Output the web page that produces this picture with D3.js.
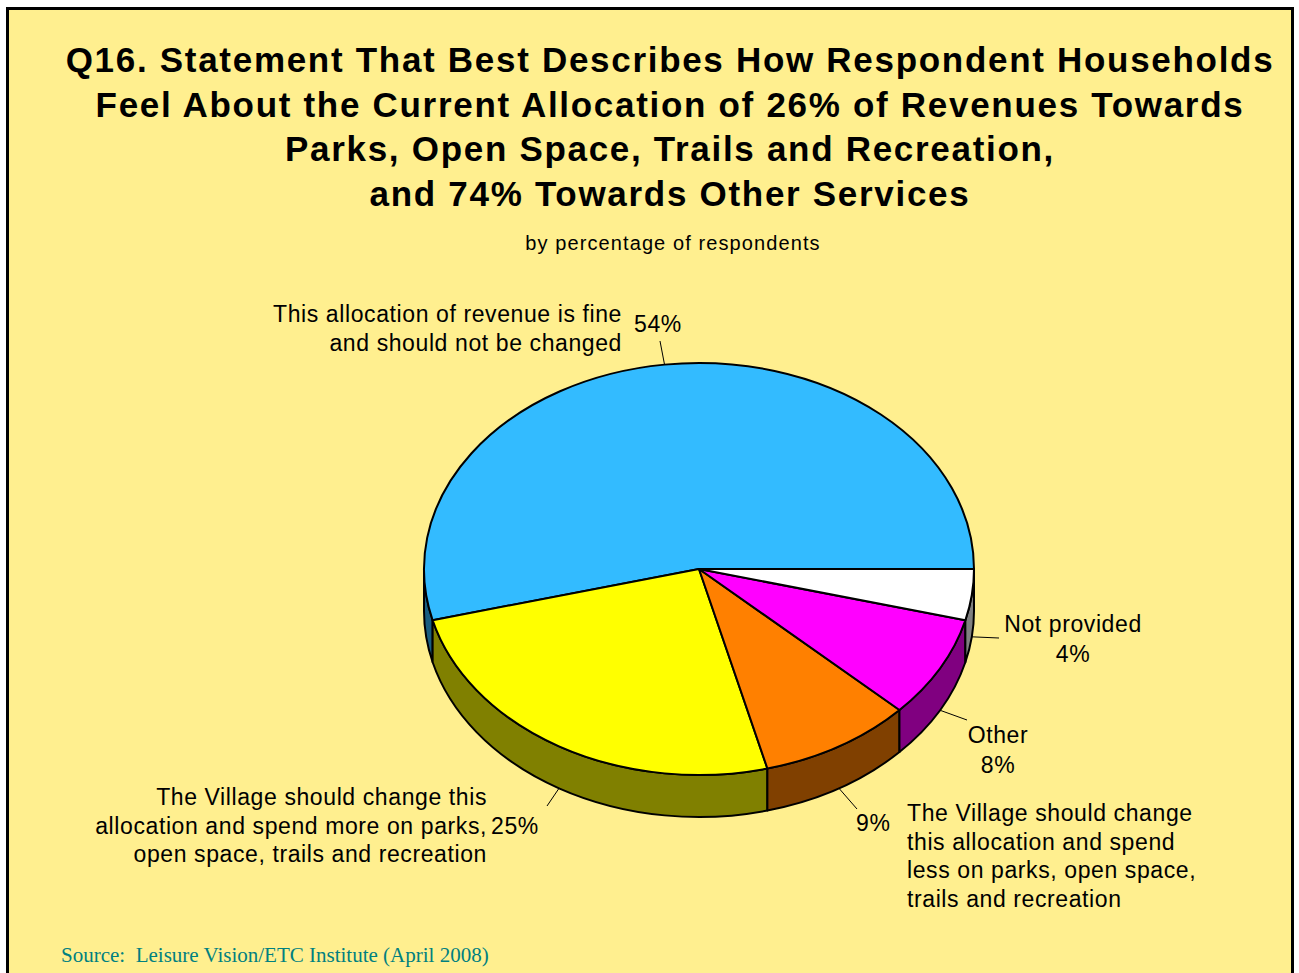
<!DOCTYPE html>
<html>
<head>
<meta charset="utf-8">
<script src="https://cdn.jsdelivr.net/npm/d3@7/dist/d3.min.js"></script>
<style>
  html, body { margin: 0; padding: 0; background: #ffffff; }
  svg { display: block; }
  .title { font-family: "Liberation Sans", Arial, sans-serif; font-weight: bold; font-size: 35px; letter-spacing: 1.7px; fill: #000; }
  .subtitle { font-family: "Liberation Sans", Arial, sans-serif; font-size: 20px; letter-spacing: 1.1px; fill: #000; }
  .lbl { font-family: "Liberation Sans", Arial, sans-serif; font-size: 23px; letter-spacing: 0.6px; fill: #000; }
  .source { font-family: "Liberation Serif", "Times New Roman", serif; font-size: 21px; fill: #008080; white-space: pre; }
</style>
</head>
<body>
<svg id="chart" width="1299" height="973" viewBox="0 0 1299 973"></svg>
<script>
// 3D pie for Q16 (revenue allocation), drawn by hand since d3.arc is circular only

const titleLines = [
    "Q16. Statement That Best Describes How Respondent Households",
    "Feel About the Current Allocation of 26% of Revenues Towards",
    "Parks, Open Space, Trails and Recreation,",
    "and 74% Towards Other Services"
];
const subtitle = "by percentage of respondents";
const sourceText = "Source:  Leisure Vision/ETC Institute (April 2008)";

const categories = [
    ["This allocation of revenue is fine", "and should not be changed"],
    ["The Village should change this", "allocation and spend more on parks,", "open space, trails and recreation"],
    ["The Village should change", "this allocation and spend", "less on parks, open space,", "trails and recreation"],
    ["Other"],
    ["Not provided"]
];
const values = [54, 25, 9, 8, 4];

const topColors = ["#33bbff", "#ffff00", "#ff8000", "#ff00ff", "#ffffff"];
const sideColors = ["#1a5e80", "#808000", "#804000", "#800080", "#808080"];

// where each label sits (layout only)
const labelLayout = [
    {nameX: 622, nameY: 322, nameAnchor: "end", pctX: 634, pctY: 332, pctAnchor: "start", lineEnd: [660, 341]},
    {nameX: 487, nameY: 805, nameAnchor: "end", pctX: 491, pctY: 834, pctAnchor: "start", lineEnd: [547, 806]},
    {nameX: 907, nameY: 821, nameAnchor: "start", pctX: 856, pctY: 831, pctAnchor: "start", lineEnd: [857, 809]},
    {nameX: 998, nameY: 743, nameAnchor: "middle", pctX: 998, pctY: 773, pctAnchor: "middle", lineEnd: [967, 720]},
    {nameX: 1073, nameY: 632, nameAnchor: "middle", pctX: 1073, pctY: 662, pctAnchor: "middle", lineEnd: [999, 638]}
];

const svg = d3.select("#chart");

// frame
svg.append("rect")
    .attr("x", 7.5).attr("y", 8.5)
    .attr("width", 1285).attr("height", 1000)
    .attr("fill", "#ffef8f")
    .attr("stroke", "#000")
    .attr("stroke-width", 3);

svg.selectAll(".title")
    .data(titleLines)
    .join("text")
    .attr("class", "title")
    .attr("x", 670)
    .attr("y", (d, i) => 72 + i * 44.5)
    .attr("text-anchor", "middle")
    .text(d => d);

svg.append("text")
    .attr("class", "subtitle")
    .attr("x", 673)
    .attr("y", 250)
    .attr("text-anchor", "middle")
    .text(subtitle);

// pie geometry
const cx = 699, cy = 569, rx = 275, ry = 206, depth = 42;
const P = (t, dy = 0) => [cx + rx * Math.cos(t), cy - ry * Math.sin(t) + dy];
const pt = p => p[0].toFixed(2) + "," + p[1].toFixed(2);

// angles counter-clockwise from 3 o'clock
const pie = d3.pie().sort(null).value(d => d).startAngle(0).endAngle(2 * Math.PI);
const arcs = pie(values).map((a, i) => ({...a, i}));

const topPath = a => {
    const t0 = a.startAngle, t1 = a.endAngle;
    return `M${cx},${cy} L${pt(P(t0))} A${rx},${ry} 0 ${t1 - t0 > Math.PI ? 1 : 0} 0 ${pt(P(t1))} Z`;
};
const sidePath = a => {
    const s0 = Math.max(a.startAngle, Math.PI), s1 = Math.min(a.endAngle, 2 * Math.PI);
    if (s0 >= s1) return null;
    return `M${pt(P(s0))} A${rx},${ry} 0 0 0 ${pt(P(s1))} L${pt(P(s1, depth))} A${rx},${ry} 0 0 1 ${pt(P(s0, depth))} Z`;
};

const pieG = svg.append("g");

pieG.selectAll(".side")
    .data(arcs.filter(a => sidePath(a)))
    .join("path")
    .attr("class", "side")
    .attr("d", sidePath)
    .attr("fill", a => sideColors[a.i])
    .attr("stroke", "#000")
    .attr("stroke-width", 2)
    .attr("stroke-linejoin", "round");

pieG.selectAll(".top")
    .data(arcs)
    .join("path")
    .attr("class", "top")
    .attr("d", topPath)
    .attr("fill", a => topColors[a.i])
    .attr("stroke", "#000")
    .attr("stroke-width", 2)
    .attr("stroke-linejoin", "round");

// leader lines from label to the slice edge at its mid angle
const anchorOf = a => {
    const m = (a.startAngle + a.endAngle) / 2;
    return P(m, Math.sin(m) < 0 ? depth : 0);
};

svg.selectAll(".leader")
    .data(arcs)
    .join("line")
    .attr("class", "leader")
    .attr("x1", a => labelLayout[a.i].lineEnd[0])
    .attr("y1", a => labelLayout[a.i].lineEnd[1])
    .attr("x2", a => anchorOf(a)[0])
    .attr("y2", a => anchorOf(a)[1])
    .attr("stroke", "#000")
    .attr("stroke-width", 1);

const lineH = 28.5;
const labelG = svg.selectAll(".label-group")
    .data(arcs)
    .join("g")
    .attr("class", "label-group");

labelG.each(function (a) {
    const g = d3.select(this);
    const L = labelLayout[a.i];
    const t = g.append("text")
        .attr("class", "lbl")
        .attr("text-anchor", L.nameAnchor);
    categories[a.i].forEach((line, k) => {
        t.append("tspan")
            .attr("x", L.nameX)
            .attr("y", L.nameY + k * lineH)
            .text(line);
    });
    g.append("text")
        .attr("class", "lbl")
        .attr("x", L.pctX)
        .attr("y", L.pctY)
        .attr("text-anchor", L.pctAnchor)
        .text(values[a.i] + "%");
});

svg.append("text")
    .attr("class", "source")
    .attr("x", 61)
    .attr("y", 962)
    .text(sourceText);
</script>
</body>
</html>
